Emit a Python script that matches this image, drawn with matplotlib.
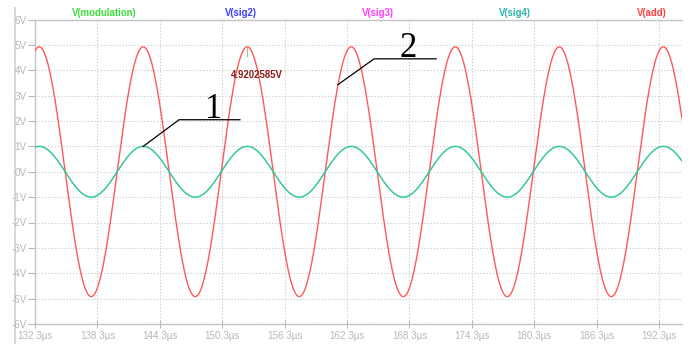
import numpy as np
import matplotlib
matplotlib.use("Agg")
import matplotlib.pyplot as plt
from matplotlib.lines import Line2D

# Waveform parameters (time in microseconds, amplitude in volts)
add_amplitude = 4.9202585
mod_amplitude = 1.0
period_us = 10.0
peak_time_us = 132.7
t_start, t_end = 132.3, 194.5

x_ticks = [132.3, 138.3, 144.3, 150.3, 156.3, 162.3, 168.3, 174.3, 180.3, 186.3, 192.3]
y_ticks = [6, 5, 4, 3, 2, 1, 0, -1, -2, -3, -4, -5, -6]

trace_names = ["V(modulation)", "V(sig2)", "V(sig3)", "V(sig4)", "V(add)"]
trace_colors = ["#3cdc3c", "#3c3cff", "#ff3cff", "#2ab4a8", "#ff3c3c"]
trace_label_x = [103.8, 241, 378, 515, 652]

t = np.linspace(t_start, t_end, 4000)
phase = 2 * np.pi * (t - peak_time_us) / period_us
v_add = add_amplitude * np.cos(phase)
v_mod = mod_amplitude * np.cos(phase)

W, H = 691, 344
fig = plt.figure(figsize=(W / 100, H / 100), dpi=100)
fig.patch.set_facecolor("white")

# Outer frame line on the left, kept beneath the axes and its labels
fig.add_artist(Line2D([15 / W, 15 / W], [0, 1 - 8 / H], transform=fig.transFigure,
                      color="#d4d4d4", lw=1.3, zorder=-5))

ax = fig.add_axes([35 / W, 1 - 324 / H, (682 - 35) / W, (324 - 19.5) / H])
ax.patch.set_alpha(0)

ax.plot(t, v_add, color="#ff5858", lw=1.0, zorder=3)
ax.plot(t, v_mod, color="#34c89c", lw=1.1, zorder=3)

ax.set_xlim(t_start, t_end)
ax.set_ylim(-6, 6)
ax.set_xticks(x_ticks)
ax.set_xticklabels([f"{v:.1f}\u00b5s" for v in x_ticks])
ax.set_yticks(y_ticks)
ax.set_yticklabels([f"{v}V" for v in y_ticks])

for lab in ax.get_xticklabels() + ax.get_yticklabels():
    lab.set_fontfamily("Liberation Sans")
    lab.set_fontsize(7.1)
    lab.set_color("#9c9c9c")
ax.tick_params(axis="both", colors="#b8b8b8", width=0.8)
ax.tick_params(axis="y", direction="out", length=5, pad=1)
ax.tick_params(axis="x", direction="inout", length=6, pad=2)

ax.grid(True, color="#cfcfcf", linestyle=(0, (1.2, 1.6)), lw=0.8, zorder=0)
for side in ("left", "bottom", "top"):
    ax.spines[side].set_color("#c4c4c4")
    ax.spines[side].set_linewidth(1.0)
ax.spines["right"].set_visible(False)

# Trace names along the top
for name, col, xp in zip(trace_names, trace_colors, trace_label_x):
    fig.text(xp / W, 1 - 13.5 / H, name, color=col, ha="center", va="center",
             fontsize=6.9, fontweight="bold", family="Liberation Sans")

# Cursor readout at the red peak
cursor_t = peak_time_us + 2 * period_us
ax.plot([cursor_t, cursor_t], [add_amplitude - 0.35, add_amplitude - 0.05],
        color="#b0b0b0", lw=0.8, zorder=4)
ax.text(153.65, 3.82, f"{add_amplitude:.7f}V", color="#8b1a1a", fontsize=6.9,
        fontweight="bold", family="Liberation Sans", ha="center", va="center", zorder=5)

# Leader lines with labels
ax.plot([peak_time_us + period_us, 146.15, 152.0], [mod_amplitude, 2.05, 2.05],
        color="black", lw=0.9, zorder=5)
ax.text(149.5, 2.12, "1", ha="center", va="baseline", fontfamily="Liberation Serif",
        fontsize=25, color="black", zorder=5)
leader2_t = 161.43
leader2_v = add_amplitude * np.cos(2 * np.pi * (leader2_t - peak_time_us) / period_us)
ax.plot([leader2_t, 164.9, 170.86], [leader2_v, 4.45, 4.45],
        color="black", lw=0.9, zorder=5)
ax.text(168.17, 4.52, "2", ha="center", va="baseline", fontfamily="Liberation Serif",
        fontsize=25, color="black", zorder=5)

fig.savefig("out.png", dpi=100)
